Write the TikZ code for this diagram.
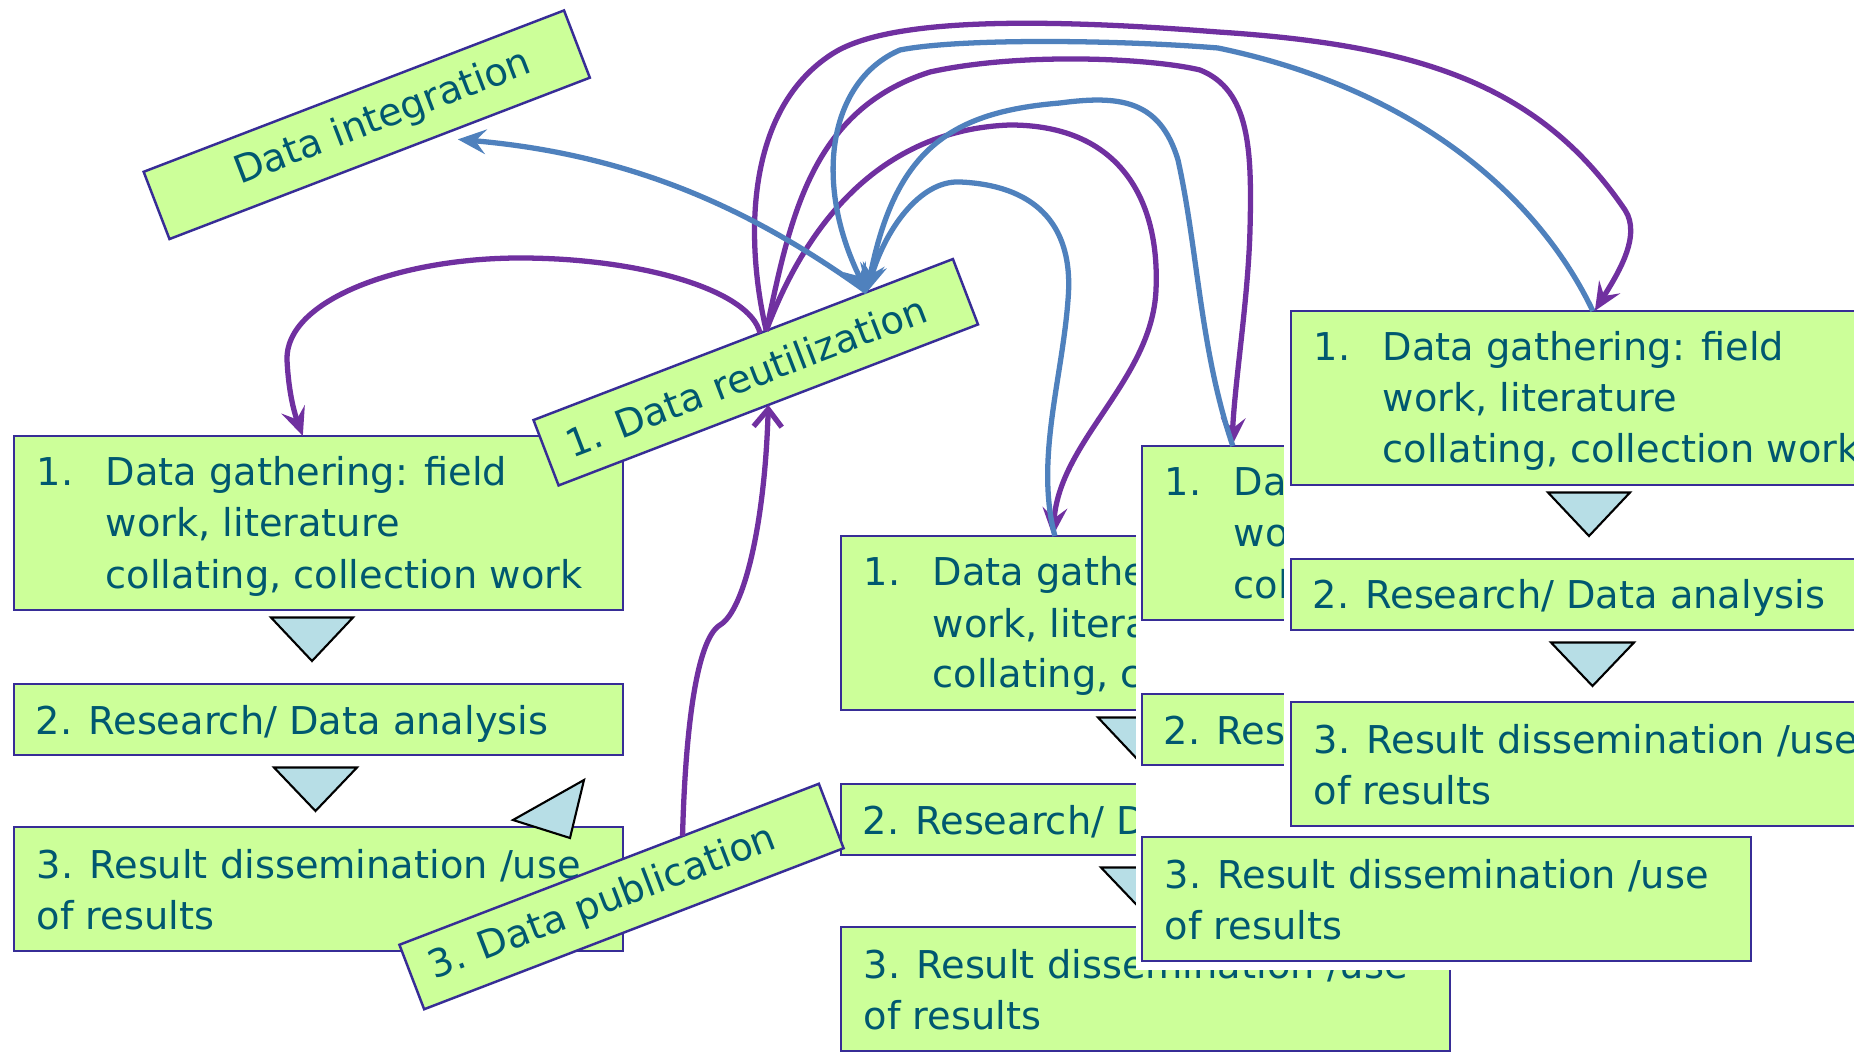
\documentclass[tikz,border=0pt]{standalone}
\usepackage{fontspec}
\newfontfamily\dvs{DejaVu Sans}
\usetikzlibrary{arrows.meta,calc}
\definecolor{boxfill}{RGB}{204,255,153}
\definecolor{boxline}{RGB}{55,45,150}
\definecolor{txtcol}{RGB}{0,88,112}
\definecolor{trifill}{RGB}{183,222,230}
\definecolor{purp}{RGB}{112,48,160}
\definecolor{bluec}{RGB}{79,129,189}
\newcommand{\MyStack}{%
  \node[box, minimum width=6.09cm, minimum height=1.74cm] (b1) at (318.5,523) {};
  \node[txt] (n1) at (36,486) {1.};
  \node[txt] (t1a) at (105,486) {Data gathering: field};
  \node[txt] (t1b) at (105,537) {work, literature};
  \node[txt] (t1c) at (105,588) {collating, collection work};
  \draw[tri] (271,617.5) -- (353,617.5) -- (312,661) -- cycle;
  \node[box, minimum width=6.09cm, minimum height=0.71cm] (b2) at (318.5,719.5) {};
  \node[txt] (t2) at (35,734) {2. Research/ Data analysis};
  \draw[tri] (274,767.5) -- (357,767.5) -- (315.5,811) -- cycle;
  \node[box, minimum width=6.09cm, minimum height=1.24cm] (b3) at (318.5,889) {};
  \node[txt] (t3a) at (36,878) {3. Result dissemination /use};
  \node[txt] (t3b) at (36,929) {of results};
}
\begin{document}
\begin{tikzpicture}[x=0.01cm, y=-0.01cm,
  box/.style={draw=boxline, fill=boxfill, line width=0.7pt, inner sep=0pt, outer sep=0pt},
  txt/.style={text=txtcol, font=\dvs\fontsize{10.9pt}{13pt}\selectfont, anchor=base west, inner sep=0pt},
  rbox/.style={box, rotate=21, text=txtcol, font=\dvs\fontsize{10.9pt}{13pt}\selectfont, minimum width=4.49cm, minimum height=0.70cm},
  tri/.style={draw=black, fill=trifill, line width=0.6pt, line join=miter},
  pline/.style={draw=purp, line width=1.5pt, -{Stealth[length=8pt,width=7pt,inset=3pt]}},
  bline/.style={draw=bluec, line width=1.5pt, -{Stealth[length=8pt,width=7pt,inset=3pt]}}
]
\useasboundingbox (0,0) rectangle (1854,1052);
\begin{scope}
\clip (0,0) rectangle (1854,1052);
\fill[white] (0,0) rectangle (1854,1052);
% stacks
\begin{scope}[name prefix=L-]
  \MyStack
\end{scope}
\begin{scope}[shift={(827,100)}, name prefix=M-]
  \MyStack
\end{scope}
\fill[white] (1136,440) rectangle (1854,970);
\begin{scope}[shift={(1128,10)}, name prefix=S-]
  \MyStack
\end{scope}
\fill[white] (1284,300) rectangle (1854,832);
\begin{scope}[shift={(1277,-125)}, name prefix=R-]
  \MyStack
\end{scope}
% loose triangle
\draw[tri] (584,780) -- (513,820) -- (570,838) -- cycle;
% rotated boxes
\node[rbox, minimum width=4.50cm, minimum height=0.72cm] (integ) at (366.75,124.75) {\hspace{10pt}Data integration};
\node[rbox] (reu) at (755.75,372.25) {1. Data reutilization\rule{6pt}{0pt}};
\node[rbox, minimum height=0.69cm] (pub) at (621.5,896.5) {3. Data publication\rule{11.5pt}{0pt}};
% connector end points
\coordinate (reuP) at ($(reu.north west)!0.555!(reu.north east)$);
\coordinate (reuP1) at ($(reu.north west)!0.54!(reu.north east)$);
\coordinate (reuB) at ($(reu.north west)!0.795!(reu.north east)$);
\coordinate (pubT) at ($(pub.north west)!0.675!(pub.north east)$);
\coordinate (integA) at ($(integ.south west)!0.686!(integ.south east)+(0,11)$);
\coordinate (Ltop) at ($(L-b1.north west)+(289,0)$);
\coordinate (Mtop) at ($(M-b1.north west)+(212,0)$);
\coordinate (MtopB) at ($(M-b1.north west)+(214,0)$);
\coordinate (Stop) at ($(S-b1.north west)+(90,0)$);
\coordinate (StopB) at ($(S-b1.north west)+(91,0)$);
\coordinate (Rtop) at ($(R-b1.north west)+(304,0)$);
\coordinate (RtopB) at ($(R-b1.north west)+(302,0)$);
% purple connectors
\draw[pline] (reuP1) .. controls (750,290) and (640,258) .. (520,258)
  .. controls (400,258) and (285,300) .. (287,360)
  .. controls (289,400) and (297,420) .. (Ltop);
\draw[draw=purp, line width=1.5pt, -{Straight Barb[length=5pt,width=8pt]}] (pubT)
  .. controls (685,740) and (695,640) .. (720,625)
  .. controls (745,610) and (765,520) .. (reu.south);
\draw[pline] (reuP) .. controls (745,240) and (745,110) .. (832,54)
  .. controls (880,23) and (1000,15) .. (1218,32)
  .. controls (1420,45) and (1540,85) .. (1625,210)
  .. controls (1642,236) and (1617,275) .. (Rtop);
\draw[pline] (reuP) .. controls (790,220) and (810,110) .. (930,72)
  .. controls (1020,52) and (1150,58) .. (1200,70)
  .. controls (1250,90) and (1252,150) .. (1250,230)
  .. controls (1248,300) and (1235,380) .. (Stop);
\draw[pline] (reuP) .. controls (800,240) and (870,130) .. (1010,125)
  .. controls (1120,125) and (1160,200) .. (1156,290)
  .. controls (1152,380) and (1060,440) .. (Mtop);
% blue connectors
\draw[bline] (reuB) .. controls (760,215) and (640,155) .. (integA);
\draw[bline] (RtopB) .. controls (1540,200) and (1420,90) .. (1218,48)
  .. controls (1120,40) and (960,38) .. (900,50)
  .. controls (830,80) and (812,180) .. (reuB);
\draw[bline] (StopB) .. controls (1200,350) and (1198,250) .. (1178,160)
  .. controls (1160,100) and (1120,95) .. (1060,103)
  .. controls (950,112) and (895,150) .. (reuB);
\draw[bline] (MtopB) .. controls (1035,460) and (1062,380) .. (1068,300)
  .. controls (1075,220) and (1030,185) .. (960,182)
  .. controls (920,180) and (885,230) .. (reuB);
\end{scope}
\end{tikzpicture}
\end{document}
